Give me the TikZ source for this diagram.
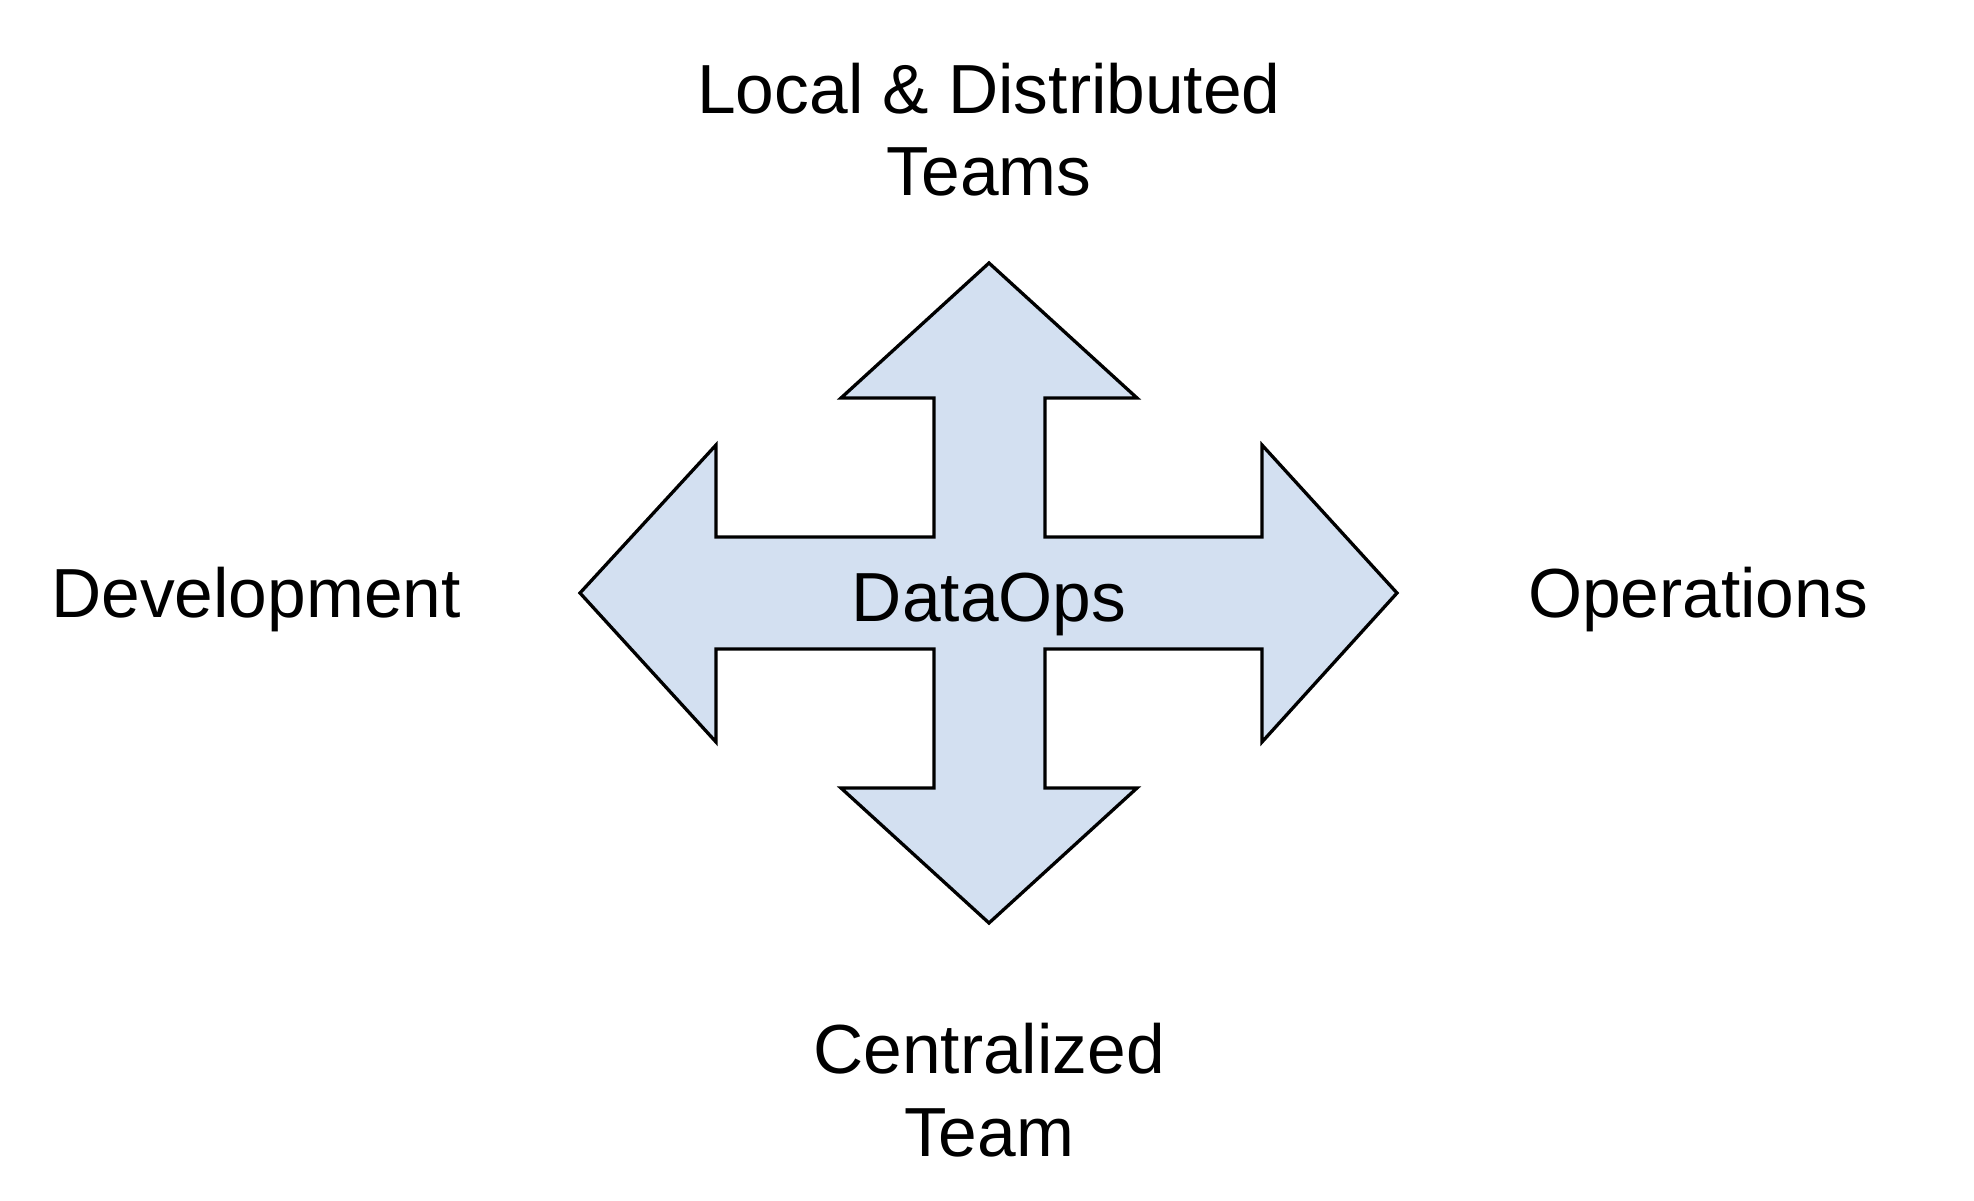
\documentclass[tikz,border=0pt]{standalone}
\usepackage{fontspec}
\setmainfont{Liberation Sans}
\definecolor{arrowfill}{HTML}{D3E0F1}
\begin{document}
\begin{tikzpicture}[x=1pt,y=-1pt,
  lbl/.style={inner sep=0pt,anchor=base,font=\fontsize{69.5}{83}\selectfont},
  cross/.style={draw=black,line width=3.3pt,line join=miter,fill=arrowfill}]
\useasboundingbox[fill=white] (0,0) rectangle (1974,1200);
\draw[cross] (989,263) -- (1137,398) -- (1045,398) -- (1045,537) -- (1262,537) -- (1262,445)
  -- (1397,593) -- (1262,742) -- (1262,649) -- (1045,649) -- (1045,788) -- (1137,788)
  -- (989,923) -- (841,788) -- (934,788) -- (934,649) -- (716,649) -- (716,742)
  -- (580,593) -- (716,445) -- (716,537) -- (934,537) -- (934,398) -- (841,398) -- cycle;
\node[lbl] (center) at (989,621) {DataOps};
\node[lbl] (top1) at (989,113) {Local \& Distributed};
\node[lbl] (top2) at (989,195) {Teams};
\node[lbl] (left) at (256,617) {Development};
\node[lbl] (right) at (1698,617) {Operations};
\node[lbl] (bot1) at (989,1073) {Centralized};
\node[lbl] (bot2) at (989,1156) {Team};
\end{tikzpicture}
\end{document}
